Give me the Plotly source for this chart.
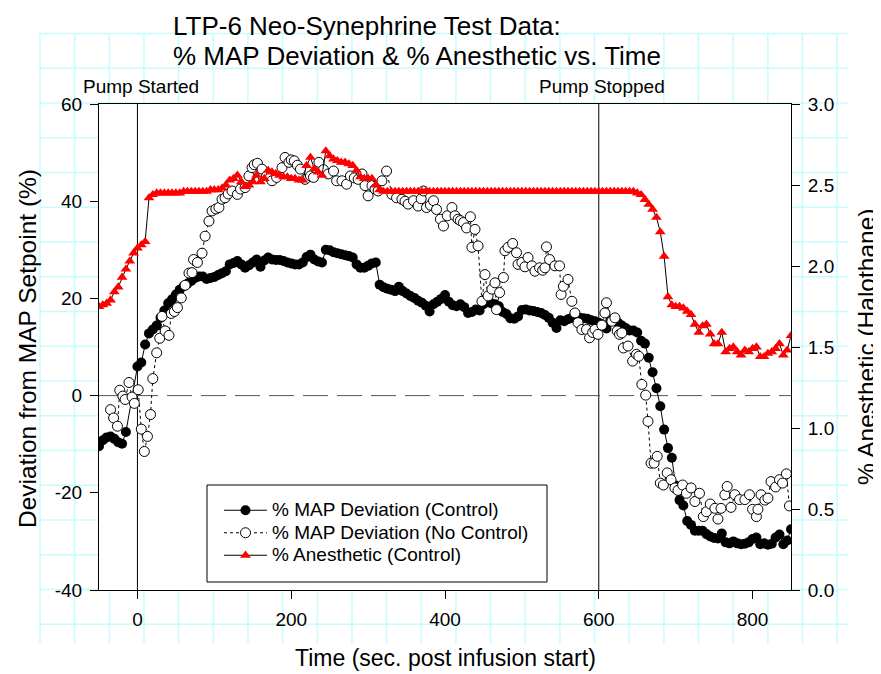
import plotly.graph_objects as go

# ---------------- data ----------------
t_anes = list(range(-50, 855, 5))
anes = [
    1.75, 1.76, 1.77, 1.79, 1.84, 1.87, 1.93, 1.98, 2.03, 2.08,
    2.11, 2.13, 2.15, 2.42, 2.44, 2.45, 2.45, 2.45, 2.45, 2.45,
    2.45, 2.45, 2.46, 2.46, 2.46, 2.46, 2.46, 2.46, 2.46, 2.47,
    2.47, 2.47, 2.48, 2.50, 2.53, 2.54, 2.56, 2.52, 2.49, 2.50,
    2.52, 2.56, 2.52, 2.54, 2.59, 2.58, 2.57, 2.56, 2.55, 2.55,
    2.54, 2.54, 2.53, 2.53, 2.62, 2.67, 2.60, 2.58, 2.56, 2.71,
    2.68, 2.66, 2.65, 2.64, 2.64, 2.63, 2.62, 2.59, 2.55, 2.54,
    2.54, 2.54, 2.50, 2.47,
    2.46, 2.46, 2.46, 2.46, 2.46, 2.46, 2.46, 2.46, 2.46, 2.46,
    2.46, 2.46, 2.46, 2.46, 2.46, 2.46, 2.46, 2.46, 2.46, 2.46,
    2.46, 2.46, 2.46, 2.46, 2.46, 2.46, 2.46, 2.46, 2.46, 2.46,
    2.46, 2.46, 2.46, 2.46, 2.46, 2.46, 2.46, 2.46, 2.46, 2.46,
    2.46, 2.46, 2.46, 2.46, 2.46, 2.46, 2.46, 2.46, 2.46, 2.46,
    2.46, 2.46, 2.46, 2.46, 2.46, 2.46, 2.46, 2.46, 2.46, 2.46,
    2.46, 2.46, 2.46, 2.46, 2.46, 2.46,
    2.45, 2.44, 2.41, 2.38, 2.35, 2.30, 2.21, 2.06, 1.81, 1.76,
    1.75, 1.75, 1.74, 1.72, 1.70, 1.64, 1.59, 1.63, 1.64, 1.58,
    1.52, 1.52, 1.59, 1.47, 1.49, 1.50, 1.47, 1.45, 1.48, 1.47,
    1.49, 1.50, 1.44, 1.44, 1.46, 1.47, 1.49, 1.52, 1.45, 1.48,
    1.57,
]

t_ctrl = list(range(-50, -10, 5)) + list(range(0, 855, 5))
map_ctrl = [
    -10.4, -9.2, -8.6, -8.4, -8.9, -9.6, -9.9, -7.5,
    6.0, 6.8, 10.5, 12.8, 13.6, 14.4, 16.0, 17.5, 19.0, 19.8,
    20.8, 21.8, 22.5, 23.0, 23.6, 24.2, 24.5, 24.5, 24.0, 24.2,
    24.4, 24.8, 25.2, 25.6, 27.0, 27.3, 27.7, 27.0, 26.3, 26.8,
    27.4, 28.0, 26.5, 27.8, 28.4, 28.0, 27.9, 27.9, 27.7, 27.4,
    27.2, 27.0, 27.0, 27.4, 28.5, 29.0, 28.0, 27.6, 27.4, 30.0,
    29.9, 29.5, 29.3, 29.1, 28.9, 28.7, 28.4, 27.0, 26.3, 26.3,
    26.7, 27.2, 27.4, 22.8, 22.3, 22.0, 21.8, 21.5, 22.4, 21.5,
    21.0, 20.5, 20.1, 19.5, 19.1, 18.5, 17.3, 18.8, 19.3, 19.9,
    20.7, 19.3, 18.6, 18.4, 18.8, 18.2, 17.0, 17.2, 17.7, 17.5,
    18.8, 19.3, 19.0, 18.8, 18.4, 17.2, 16.8, 15.9, 15.8, 16.3,
    17.6, 17.7, 17.5, 17.4, 17.2, 17.0, 16.6, 16.0, 15.0, 13.9,
    15.5, 15.3, 15.7, 16.0, 16.0, 16.0, 15.9, 15.8, 15.5, 15.3,
    15.0, 14.5, 13.8, 15.4, 15.6, 15.0, 14.4, 13.9, 13.4, 13.4,
    13.0, 11.3, 10.7, 7.8, 4.8, 1.5, -2.2, -7.0, -10.8, -12.8,
    -18.5, -21.5, -22.6, -25.8, -26.6, -27.8, -27.8, -27.8, -28.5, -29.0,
    -29.3, -29.4, -28.4, -30.2, -30.4, -30.0, -30.4, -30.6, -30.5, -30.2,
    -29.5, -29.2, -30.6, -30.4, -30.7, -30.5, -29.2, -28.6, -30.6, -29.8,
    -27.5,
]

t_noctrl = [
    -35, -31, -26, -23, -19, -16, -11, -7, -4, 1,
    5, 9, 13, 17, 20, 25, 29, 32, 36, 41,
    44, 48, 52, 57, 62, 67, 71, 73, 78, 84,
    88, 93, 97, 102, 106, 110, 114, 118, 123, 130,
    134, 140, 145, 149, 152, 156, 162, 168, 175, 181,
    188, 192, 197, 200, 204, 208, 212, 218, 225, 229,
    236, 242, 248, 255, 259, 266, 272, 277, 282, 287,
    292, 296, 300, 305, 309, 313, 318, 324, 331, 337,
    344, 348, 352, 359, 365, 369, 372, 376, 381, 385,
    389, 394, 398, 403, 409, 413, 417, 420, 424, 428,
    433, 435, 439, 443, 448, 452, 456, 461, 465, 467,
    471, 476, 478, 482, 488, 493, 495, 500, 504, 508,
    513, 517, 523, 527, 530, 532, 536, 543, 549, 551,
    554, 560, 565, 569, 573, 578, 584, 588, 592, 595,
    599, 604, 608, 610, 617, 621, 624, 627, 630, 632,
    638, 644, 649, 652, 656, 661, 664, 668, 672, 676,
    680, 684, 689, 694, 699, 703, 709, 714, 720, 725,
    731, 736, 740, 745, 751, 755, 759, 764, 767, 772,
    777, 783, 790, 796, 800, 805, 807, 811, 816, 820,
    824, 830, 835, 839, 844, 848,
]
map_noctrl = [
    -2.9, -4.6, -6.3, 1.1, -0.1, -0.8, 2.7, -0.3, -1.6, 1.2,
    -6.9, -11.5, -8.4, -3.9, 3.5, 8.8, 11.8, 16.3, 13.3, 12.4,
    16.9, 17.3, 18.1, 20.1, 22.7, 25.2, 25.3, 28.0, 27.4, 29.3,
    32.8, 35.9, 38.0, 38.4, 38.7, 40.4, 40.7, 41.5, 42.1, 41.4,
    42.5, 42.8, 45.2, 46.9, 47.5, 47.8, 46.6, 45.2, 44.2, 44.9,
    46.9, 49.0, 48.0, 48.5, 48.3, 47.4, 46.6, 44.5, 45.2, 44.9,
    48.0, 46.5, 45.6, 46.2, 44.2, 44.2, 43.5, 45.2, 44.8, 44.5,
    45.6, 43.2, 41.1, 43.2, 42.5, 42.1, 44.2, 46.2, 41.4, 40.7,
    40.4, 40.0, 39.4, 40.1, 39.0, 40.5, 42.1, 38.7, 39.2, 40.1,
    38.3, 36.3, 34.9, 37.0, 38.7, 37.0, 36.3, 36.0, 35.6, 34.5,
    36.8, 30.5, 34.2, 30.8, 19.4, 24.9, 20.5, 21.9, 23.2, 17.7,
    21.2, 24.3, 29.8, 30.5, 31.3, 29.4, 27.0, 27.4, 26.5, 28.4,
    26.7, 25.6, 26.3, 25.8, 26.3, 30.6, 28.0, 26.7, 26.7, 20.8,
    22.5, 23.9, 19.4, 17.0, 15.0, 13.6, 13.6, 11.9, 13.0, 13.6,
    12.6, 14.5, 17.0, 19.1, 15.3, 16.0, 13.3, 12.6, 12.9, 9.8,
    10.2, 7.1, 8.5, 8.1, 2.3, 0.1, -5.3, -13.9, -13.9, -12.5,
    -18.0, -18.4, -15.9, -17.3, -19.0, -19.5, -18.4, -20.1, -19.0, -21.8,
    -20.1, -24.9, -23.9, -22.3, -23.2, -25.4, -23.2, -20.4, -18.7, -23.0,
    -20.4, -21.4, -21.4, -20.4, -23.4, -24.9, -23.4, -20.4, -21.5, -21.1,
    -17.7, -18.8, -17.3, -18.0, -16.1, -22.7,
]

x_ticks = [0, 200, 400, 600, 800]
y_ticks = [-40, -20, 0, 20, 40, 60]
y_ticktext = ["-40", "-20", "0", "20", "40", "60"]
y2_ticks = [0.0, 0.5, 1.0, 1.5, 2.0, 2.5, 3.0]
events = [(0, "Pump Started"), (600, "Pump Stopped")]
title_lines = ["LTP-6 Neo-Synephrine Test Data:",
               "% MAP Deviation &amp; % Anesthetic vs. Time"]

# ---------------- figure ----------------
W, H = 881, 674
L, T, PW, PH = 91, 96, 692, 486
R, B = W - L - PW, H - T - PH
OFF = 8  # page offset of the figure (body margin)
FONT = "Arial, 'Liberation Sans', Helvetica, sans-serif"


def fx(p):
    """reference page pixel x -> paper x"""
    return (p - OFF - L) / PW


def fy(p):
    """reference page pixel y -> paper y"""
    return (T + PH - (p - OFF)) / PH


fig = go.Figure()
LEG = '<span style="font-size:19px">%s</span>'
fig.add_trace(go.Scatter(
    x=t_ctrl, y=map_ctrl, mode="lines+markers", name=LEG % "% MAP Deviation (Control)",
    line=dict(color="black", width=1),
    marker=dict(symbol="circle", size=10, color="black", line=dict(width=0)),
))
fig.add_trace(go.Scatter(
    x=t_noctrl, y=map_noctrl, mode="lines+markers", name=LEG % "% MAP Deviation (No Control)",
    line=dict(color="black", width=1, dash="dot"),
    marker=dict(symbol="circle", size=10, color="white", line=dict(color="black", width=1)),
))
fig.add_trace(go.Scatter(
    x=t_anes, y=anes, yaxis="y2", mode="lines+markers", name=LEG % "% Anesthetic (Control)",
    line=dict(color="black", width=1),
    marker=dict(symbol="triangle-up", size=9.5, color="#ff0000", line=dict(width=0)),
))

shapes = []
# graph-paper grid behind the chart
gx0, gx1, gy0, gy1 = 40, 848, 33.5, 643
for k in range(24):
    xp = 40 + 34.66 * k
    shapes.append(dict(type="line", xref="paper", yref="paper", layer="below",
                       x0=fx(xp), x1=fx(xp), y0=fy(gy0), y1=fy(gy1),
                       line=dict(color="#c8fcfc", width=1.5)))
for k in range(18):
    yp = 33.5 + 34.75 * k
    shapes.append(dict(type="line", xref="paper", yref="paper", layer="below",
                       x0=fx(gx0), x1=fx(gx1), y0=fy(yp), y1=fy(yp),
                       line=dict(color="#c8fcfc", width=1.5)))
# white plotting area covering the grid
shapes.append(dict(type="rect", xref="paper", yref="paper", layer="below",
                   x0=0, x1=1, y0=0, y1=1, fillcolor="white", line=dict(width=0)))
# zero reference line
shapes.append(dict(type="line", xref="x", yref="y", layer="below",
                   x0=-50, x1=850, y0=0, y1=0,
                   line=dict(color="#555555", width=1, dash="25px,9px")))
# event lines
for ex, _ in events:
    shapes.append(dict(type="line", xref="x", yref="paper", layer="below",
                       x0=ex, x1=ex, y0=0, y1=1, line=dict(color="black", width=1)))
# legend frame
shapes.append(dict(type="rect", xref="paper", yref="paper", layer="above",
                   x0=fx(207), x1=fx(547), y0=fy(582), y1=fy(485),
                   line=dict(color="black", width=1)))

annotations = [
    dict(text=title_lines[0], xref="paper", yref="paper", x=fx(171), y=fy(8.5),
         xanchor="left", yanchor="top", showarrow=False,
         font=dict(size=26, family=FONT, color="black")),
    dict(text=title_lines[1], xref="paper", yref="paper", x=fx(171), y=fy(39),
         xanchor="left", yanchor="top", showarrow=False,
         font=dict(size=26, family=FONT, color="black")),
    dict(text="Time (sec. post infusion start)", xref="paper", yref="paper",
         x=fx(446), y=fy(658), xanchor="center", yanchor="middle", showarrow=False,
         font=dict(size=23, family=FONT, color="black")),
    dict(text="Deviation from MAP Setpoint (%)", xref="paper", yref="paper",
         x=fx(27), y=fy(349), xanchor="center", yanchor="middle", textangle=-90,
         showarrow=False, font=dict(size=24.5, family=FONT, color="black")),
    dict(text="% Anesthetic (Halothane)", xref="paper", yref="paper",
         x=fx(866), y=fy(347), xanchor="center", yanchor="middle", textangle=-90,
         showarrow=False, font=dict(size=24.5, family=FONT, color="black")),
]
for ex, label in events:
    annotations.append(dict(text=label, xref="x", yref="paper", x=ex + 4, y=fy(86),
                            xanchor="center", yanchor="middle", showarrow=False,
                            font=dict(size=19, family=FONT, color="black")))

axis_common = dict(showline=True, linecolor="black", linewidth=1, ticks="outside",
                   ticklen=8, tickwidth=1, tickcolor="black", showgrid=False,
                   zeroline=False, tickfont=dict(size=19, family=FONT, color="black"))

fig.update_layout(
    width=W, height=H,
    margin=dict(l=L, r=R, t=T, b=B, autoexpand=False),
    paper_bgcolor="white", plot_bgcolor="white",
    font=dict(family=FONT, size=19, color="black"),
    showlegend=True,
    legend=dict(x=fx(219), y=fy(494), xanchor="left", yanchor="top",
                bgcolor="rgba(0,0,0,0)", borderwidth=0, itemwidth=43,
                font=dict(size=15, family=FONT, color="black")),
    xaxis=dict(range=[-50, 850], tickmode="array", tickvals=x_ticks, mirror=True,
               ticklabelstandoff=4, **axis_common),
    yaxis=dict(range=[-40, 60], tickmode="array", tickvals=y_ticks, ticktext=y_ticktext,
               ticklabelstandoff=4, **axis_common),
    yaxis2=dict(range=[0, 3], tickmode="array", tickvals=y2_ticks, tickformat=".1f",
                overlaying="y", side="right", ticklabelstandoff=4, **axis_common),
    shapes=shapes,
    annotations=annotations,
)

fig.write_html("out.html")
